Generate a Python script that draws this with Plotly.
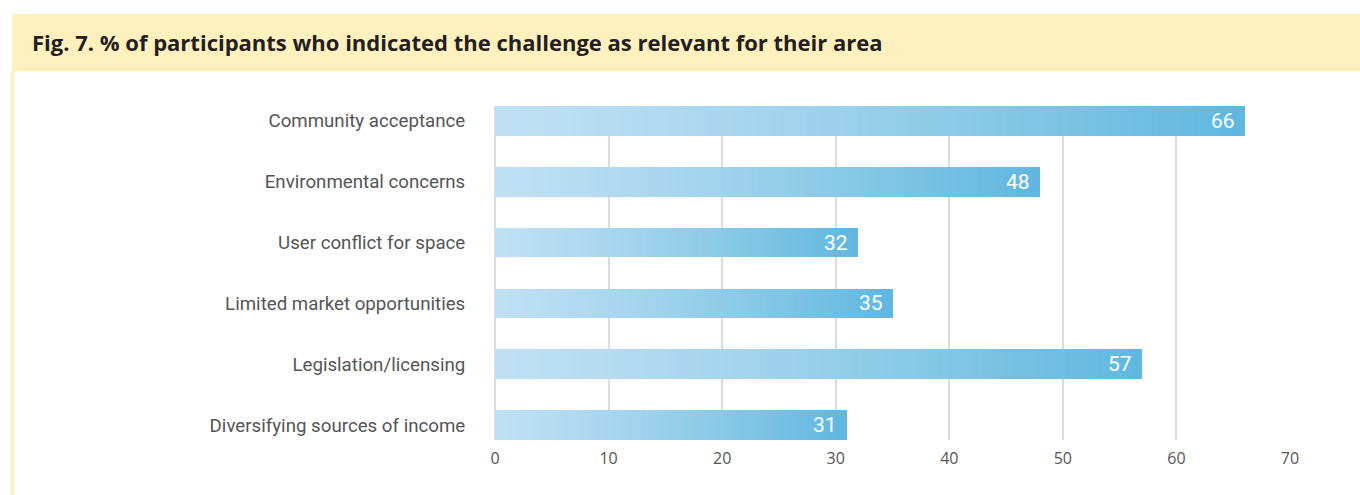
import plotly.graph_objects as go

categories = ["Community acceptance", "Environmental concerns", "User conflict for space",
              "Limited market opportunities", "Legislation/licensing", "Diversifying sources of income"]
values = [66, 48, 32, 35, 57, 31]
x_ticks = [0, 10, 20, 30, 40, 50, 60, 70]
title_text = "Fig. 7. % of participants who indicated the challenge as relevant for their area"

W, H = 1360, 495
L, R, T, B = 495, 70, 106, 55
pw, ph = W - L - R, H - T - B

def px(x):
    return (x - L) / pw

def py(y):
    return 1 - (y - T) / ph

c0 = (191, 224, 243)
c1 = (95, 183, 223)
N = 60

fig = go.Figure()
for i in range(N):
    t = ((i + 0.5) / N) ** 1.25
    col = tuple(round(a + (b - a) * t) for a, b in zip(c0, c1))
    fig.add_trace(go.Bar(
        y=categories, x=[v / N for v in values], orientation="h",
        marker=dict(color="rgb(%d,%d,%d)" % col, line=dict(width=0)),
        width=0.49, showlegend=False, hoverinfo="skip"))

for c, v in zip(categories, values):
    fig.add_annotation(x=v, y=c, text=str(v), showarrow=False, xanchor="right", xshift=-8,
                       font=dict(family="Roboto, sans-serif", size=21, color="white"))

shapes = [
    dict(type="rect", xref="paper", yref="paper", x0=px(12), x1=px(1362), y0=py(71), y1=py(14),
         fillcolor="#fff0bd", line=dict(width=0), layer="below"),
    dict(type="rect", xref="paper", yref="paper", x0=px(11), x1=px(14), y0=py(500), y1=py(71),
         fillcolor="#fff0bd", line=dict(width=0), layer="below"),
]

fig.add_annotation(xref="paper", yref="paper", x=px(30), y=py(42), xanchor="left", yanchor="middle",
                   text="<b>" + title_text + "</b>", showarrow=False,
                   font=dict(family="Open Sans, sans-serif", size=22, color="#231f20"))

fig.update_layout(
    width=W, height=H, margin=dict(l=L, r=R, t=T, b=B),
    barmode="stack", bargap=0, plot_bgcolor="white", paper_bgcolor="white",
    shapes=shapes,
    xaxis=dict(range=[0, 70], tickvals=x_ticks, showgrid=True, gridcolor="#dcdcdc", gridwidth=2,
               zeroline=True, zerolinecolor="#dcdcdc", zerolinewidth=2, showline=False,
               ticks="outside", ticklen=4, tickcolor="rgba(0,0,0,0)",
               tickfont=dict(family="Open Sans, sans-serif", size=16, color="#555555")),
    yaxis=dict(categoryorder="array", categoryarray=categories, range=[5.245, -0.245],
               showgrid=False, zeroline=False, showline=False,
               ticks="outside", ticklen=25, tickcolor="rgba(0,0,0,0)",
               tickfont=dict(family="Roboto, sans-serif", size=18.7, color="#555555")),
)

fig.write_html("out.html")
